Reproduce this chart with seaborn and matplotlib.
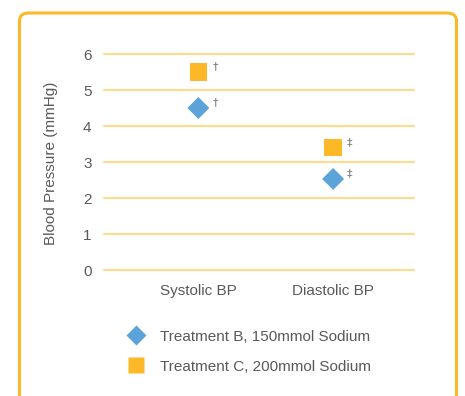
import matplotlib
matplotlib.use("Agg")
import matplotlib.pyplot as plt
import seaborn as sns
import pandas as pd
from matplotlib.patches import FancyBboxPatch
from matplotlib.lines import Line2D

categories = ["Systolic BP", "Diastolic BP"]
treatment_b = [4.5, 2.53]
treatment_c = [5.5, 3.4]
series_names = ["Treatment B, 150mmol Sodium", "Treatment C, 200mmol Sodium"]
marks = ["\u2020", "\u2021"]
y_ticks = [0, 1, 2, 3, 4, 5, 6]

sns.set_theme(style="white")
plt.rcParams["font.family"] = ["Liberation Sans", "DejaVu Sans"]

TEXT = "#595959"
BLUE = "#5BA3D8"
GOLD = "#FDB827"
GRID = "#FFD98C"

df_b = pd.DataFrame({"cat": categories, "val": treatment_b})
df_c = pd.DataFrame({"cat": categories, "val": treatment_c})

fig = plt.figure(figsize=(4.65, 3.96), dpi=100)
ax = fig.add_axes([104 / 465, 1 - 270 / 396, 310 / 465, 216 / 396])

sns.scatterplot(data=df_b, x="cat", y="val", color=BLUE, marker="D", s=125,
                edgecolor="none", ax=ax, zorder=3)
sns.scatterplot(data=df_c, x="cat", y="val", color=GOLD, marker="s", s=155,
                edgecolor="none", ax=ax, zorder=3)

ax.set_xlim(-0.70, 1.60)
ax.set_ylim(0, 6)
ax.set_yticks(y_ticks)
ax.set_xticks([0, 1])
ax.set_xticklabels(categories)
ax.grid(False)
for v in y_ticks:
    ax.axhline(v, color=GRID, lw=1.5, zorder=1, clip_on=False)
for sp in ax.spines.values():
    sp.set_visible(False)
ax.tick_params(axis="both", length=0, labelsize=11, colors=TEXT)
ax.tick_params(axis="y", pad=9)
ax.tick_params(axis="x", pad=10)
ax.set_xlabel("")
ax.set_ylabel("Blood Pressure (mmHg)", fontsize=11, color=TEXT)
ax.yaxis.set_label_coords(-0.148, 0.495)

for i, m in enumerate(marks):
    for vals in (treatment_b, treatment_c):
        ax.annotate(m, (i, vals[i]), xytext=(12, 4), textcoords="offset points",
                    fontsize=8, color="#777777", ha="center", va="center",
                    family=["DejaVu Sans"])

handles = [
    Line2D([], [], marker="D", color="none", markerfacecolor=BLUE, markeredgecolor="none", markersize=10),
    Line2D([], [], marker="s", color="none", markerfacecolor=GOLD, markeredgecolor="none", markersize=12),
]
leg = fig.legend(handles, series_names, loc="upper left",
                 bbox_to_anchor=(119 / 465, 1 - 322 / 396), frameon=False,
                 fontsize=11, labelspacing=1.05, handletextpad=1.0,
                 handlelength=1.2, borderpad=0)
for t in leg.get_texts():
    t.set_color(TEXT)

border = FancyBboxPatch((19.5 / 465, -0.1), 437 / 465, 1 - 13 / 396 + 0.1,
                        boxstyle="round,pad=0,rounding_size=0.02",
                        transform=fig.transFigure, fill=False,
                        edgecolor=GOLD, linewidth=2.2, clip_on=False)
fig.patches.append(border)

fig.savefig("out.png", dpi=100)
